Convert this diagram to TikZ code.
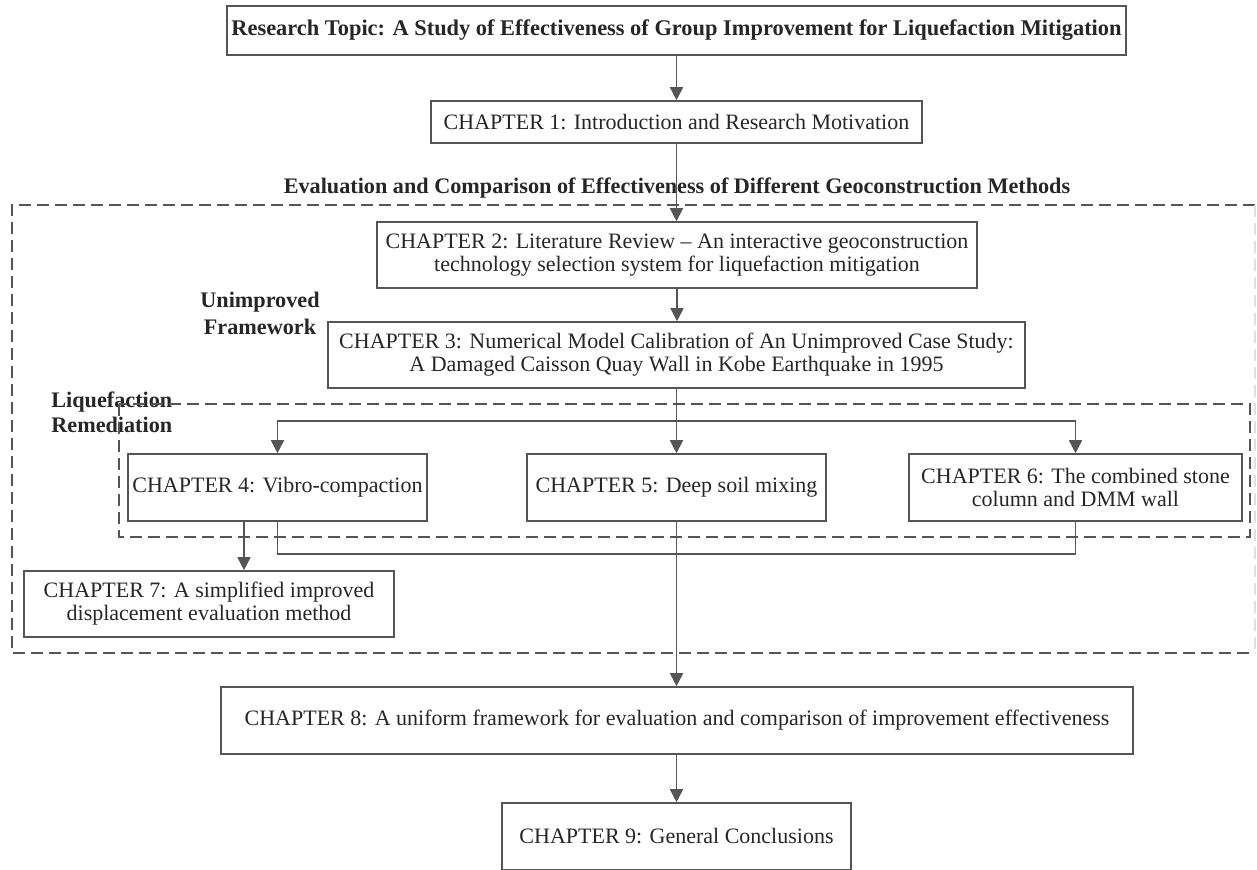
\documentclass[tikz,border=0pt]{standalone}
\usepackage{fontspec}
\setmainfont{Liberation Serif}
\usepackage{xcolor}
\usetikzlibrary{arrows.meta}

\definecolor{linegray}{HTML}{555555}
\definecolor{txtgray}{HTML}{262626}

\tikzset{
  chap/.style={draw=linegray, line width=0.8pt, text=txtgray, inner sep=0pt,
    align=center, font=\fontsize{11}{11.5}\selectfont},
  lbl/.style={text=txtgray, inner sep=0pt, font=\fontsize{11.1}{13}\selectfont\bfseries},
  dashbox/.style={draw=linegray, line width=0.7pt, dash pattern=on 6pt off 3pt},
  link/.style={draw=linegray, line width=0.8pt},
  arr/.style={link, -{Triangle[width=6.5pt,length=6.5pt]}}
}

\begin{document}
\begin{tikzpicture}[x=0.5pt, y=-0.5pt]
  \useasboundingbox (0,0) rectangle (1257,869);

  % boxes
  \node[chap, font=\fontsize{11.2}{12}\selectfont\bfseries, minimum width=449.5pt, minimum height=24.5pt] (topic) at (676.5,30.5)
    {Research Topic: A Study of Effectiveness of Group Improvement for Liquefaction Mitigation};
  \node[chap, minimum width=245.5pt, minimum height=21pt] (c1) at (676.5,122)
    {CHAPTER 1: Introduction and Research Motivation};
  \node[lbl] (eval) at (677,188)
    {Evaluation and Comparison of Effectiveness of Different Geoconstruction Methods};
  \node[lbl, align=center, font=\fontsize{11.1}{13.5}\selectfont\bfseries] (unimp) at (260,313.5) {Unimproved\\Framework};
  \node[chap, minimum width=300pt, minimum height=33pt] (c2) at (677,255)
    {CHAPTER 2: Literature Review -- An interactive geoconstruction\\technology selection system for liquefaction mitigation};
  \node[chap, minimum width=348.5pt, minimum height=33pt] (c3) at (676.5,355)
    {CHAPTER 3: Numerical Model Calibration of An Unimproved Case Study:\\A Damaged Caisson Quay Wall in Kobe Earthquake in 1995};
  \node[lbl, align=left, anchor=west, font=\fontsize{11.1}{12.5}\selectfont\bfseries] (liq) at (51,412.5) {Liquefaction\\Remediation};
  \node[chap, minimum width=149.5pt, minimum height=33.5pt] (c4) at (277.5,487.5)
    {CHAPTER 4: Vibro-compaction};
  \node[chap, minimum width=149.5pt, minimum height=33.5pt] (c5) at (676.5,487.5)
    {CHAPTER 5: Deep soil mixing};
  \node[chap, minimum width=166.5pt, minimum height=33.5pt] (c6) at (1075.5,487.5)
    {CHAPTER 6: The combined stone\\column and DMM wall};
  \node[chap, minimum width=185pt, minimum height=33pt] (c7) at (209,604)
    {CHAPTER 7: A simplified improved\\displacement evaluation method};
  \node[chap, minimum width=456pt, minimum height=33.5pt] (c8) at (677,720.5)
    {CHAPTER 8: A uniform framework for evaluation and comparison of improvement effectiveness};
  \node[chap, minimum width=174.5pt, minimum height=33.5pt] (c9) at (676.5,836.5)
    {CHAPTER 9: General Conclusions};

  % dashed groups
  \draw[dashbox] (1255,205) -- (12,205) -- (12,653) -- (1255,653);
  \draw[dashbox, draw=black!12] (1255,205) -- (1255,653);
  \draw[dashbox] (119,404) rectangle (1250,537);

  % connectors
  \coordinate (split) at (676.5,421);
  \coordinate (join) at (676.5,554);
  \coordinate (c7in) at (244,0);
  \draw[arr] (topic.south) -- (c1.north);
  \draw[arr] (c1.south) -- (c1.south |- c2.north);
  \draw[arr] (c2.south) -- (c2.south |- c3.north);
  \draw[arr] (c3.south) -- (c5.north);
  \draw[arr] (split) -| (c4.north);
  \draw[arr] (split) -| (c6.north);
  \draw[arr] (c4.south -| c7in) -- (c7.north -| c7in);
  \draw[link] (c4.south) |- (join) -| (c6.south);
  \draw[arr] (c5.south) -- (c5.south |- c8.north);
  \draw[arr] (c8.south -| c9.north) -- (c9.north);
\end{tikzpicture}
\end{document}
